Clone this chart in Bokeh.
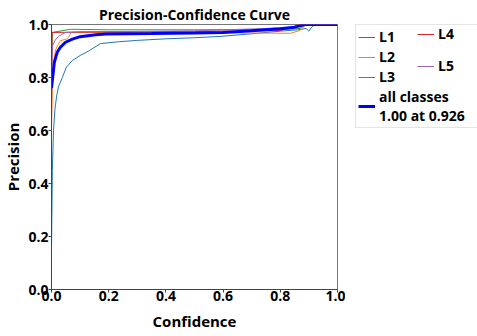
from bokeh.plotting import figure
from bokeh.layouts import row
from bokeh.models import Range1d, FixedTicker, Legend, LegendItem, CustomJSTickFormatter
from bokeh.embed import file_html
from bokeh.resources import INLINE

# ---- data ----
l1_conf = [0, 0.003, 0.007, 0.012, 0.018, 0.024, 0.038, 0.052, 0.073, 0.1, 0.13, 0.171, 0.235, 0.3,
           0.4, 0.5, 0.59, 0.7, 0.8, 0.86, 0.89, 0.9, 0.91, 0.92, 1.0]
l1_prec = [0.15, 0.45, 0.6, 0.68, 0.73, 0.764, 0.80, 0.839, 0.864, 0.883, 0.90, 0.928, 0.935, 0.94,
           0.946, 0.95, 0.955, 0.965, 0.975, 0.98, 0.985, 0.975, 0.99, 1.0, 1.0]

l2_conf = [0, 0.003, 0.007, 0.014, 0.021, 0.031, 0.052, 0.062, 0.068, 0.15, 0.3, 0.5, 0.7, 0.8,
           0.836, 0.87, 0.888, 1.0]
l2_prec = [0.62, 0.78, 0.854, 0.903, 0.92, 0.939, 0.945, 0.955, 0.97, 0.97, 0.97, 0.969, 0.968, 0.967,
           0.967, 0.978, 1.0, 1.0]

l3_conf = [0, 0.003, 0.066, 0.2, 0.5, 0.8, 0.87, 0.88, 1.0]
l3_prec = [0.8, 0.97, 0.982, 0.98, 0.98, 0.982, 0.985, 1.0, 1.0]

l4_conf = [0, 0.002, 0.2, 0.5, 0.8, 0.845, 0.86, 1.0]
l4_prec = [0.6, 0.97, 0.972, 0.974, 0.977, 0.99, 1.0, 1.0]

l5_conf = [0, 0.004, 0.013, 0.024, 0.049, 0.1, 0.3, 0.5, 0.75, 0.85, 0.88, 1.0]
l5_prec = [0.85, 0.92, 0.941, 0.955, 0.97, 0.973, 0.974, 0.976, 0.985, 0.99, 1.0, 1.0]

all_conf = [0, 0.004, 0.01, 0.02, 0.031, 0.049, 0.073, 0.1, 0.154, 0.19, 0.35, 0.5, 0.6, 0.7,
            0.8, 0.85, 0.888, 1.0]
all_prec = [0.76, 0.80, 0.858, 0.895, 0.914, 0.933, 0.945, 0.954, 0.961, 0.964, 0.966, 0.968, 0.97, 0.976,
            0.984, 0.99, 1.0, 1.0]

tick_values = [0.0, 0.2, 0.4, 0.6, 0.8, 1.0]
title_text = "Precision-Confidence Curve"
x_label = "Confidence"
y_label = "Precision"
labels = ["L1", "L2", "L3", "L4", "L5", "all classes\n1.00 at 0.926"]
colors = ["#1f77b4", "#ff7f0e", "#2ca02c", "#d62728", "#9467bd", "#0000ff"]
widths = [1, 1, 1, 1, 1, 3]

FONT = "Open Sans"

p = figure(width=345, height=336, output_backend="svg", toolbar_location=None,
           x_range=Range1d(0, 1), y_range=Range1d(0, 1),
           min_border_left=51, min_border_right=8, min_border_top=22, min_border_bottom=47)

p.title.text = title_text
p.title.text_font = FONT
p.title.text_font_size = "14px"
p.title.text_font_style = "bold"
p.title.text_color = "black"
p.title.align = "center"
p.title.offset = 0
p.title.standoff = 2

p.xgrid.visible = False
p.ygrid.visible = False
p.outline_line_color = "#777777"
p.background_fill_color = "white"
p.border_fill_color = "white"

for ax in (p.xaxis[0], p.yaxis[0]):
    ax.ticker = FixedTicker(ticks=tick_values)
    ax.formatter = CustomJSTickFormatter(code="return tick.toFixed(1)")
    ax.major_label_text_font = FONT
    ax.major_label_text_font_size = "14px"
    ax.major_label_text_font_style = "bold"
    ax.major_label_text_color = "black"
    ax.axis_label_text_font = FONT
    ax.axis_label_text_font_size = "15px"
    ax.axis_label_text_font_style = "bold"
    ax.axis_label_text_color = "black"
    ax.minor_tick_line_color = None
    ax.major_tick_in = 0
    ax.major_tick_out = 3
    ax.axis_line_color = "#444444"
    ax.major_tick_line_color = "#444444"

p.xaxis.major_label_standoff = -2
p.yaxis.major_label_standoff = 0
p.xaxis.axis_label = x_label
p.yaxis.axis_label = y_label
p.xaxis.axis_label_standoff = 7
p.yaxis.axis_label_standoff = 2

series = [(l1_conf, l1_prec), (l2_conf, l2_prec), (l3_conf, l3_prec),
          (l4_conf, l4_prec), (l5_conf, l5_prec), (all_conf, all_prec)]
for (cx, py), col, w in zip(series, colors, widths):
    p.line(cx, py, line_color=col, line_width=w)

# ---- legend panel (separate figure to the right of the plot) ----
# its ranges lie outside the data, so the copies of the lines used as legend swatches stay out of view
lf = figure(width=132, height=336, output_backend="svg", toolbar_location=None,
            x_range=Range1d(5, 6), y_range=Range1d(5, 6),
            x_axis_location=None, y_axis_location=None,
            min_border_left=10, min_border_right=0, min_border_top=24, min_border_bottom=0)
lf.xgrid.visible = False
lf.ygrid.visible = False
lf.outline_line_color = None
lf.background_fill_color = "white"
lf.border_fill_color = "white"

swatches = [lf.line(cx, py, line_color=col, line_width=w)
            for (cx, py), col, w in zip(series, colors, widths)]

def style(lg):
    lg.label_text_font = FONT
    lg.label_text_font_size = "14px"
    lg.label_text_font_style = "bold"
    lg.label_text_color = "black"
    lg.label_text_line_height = 0.9
    lg.glyph_width = 17
    lg.glyph_height = 16
    lg.label_height = 18
    lg.label_standoff = 4
    lg.padding = 2
    lg.margin = 0

legA = Legend(items=[LegendItem(label=labels[i], renderers=[swatches[i]]) for i in (0, 1, 2, 5)],
              location="top_left")
style(legA)
legA.spacing = 1
legA.label_width = 99
legA.border_line_color = "#cccccc"
legA.border_line_width = 1
legA.background_fill_color = "white"

legB = Legend(items=[LegendItem(label=labels[i], renderers=[swatches[i]]) for i in (3, 4)],
              location=(62, 214))
style(legB)
legB.spacing = 13
legB.border_line_color = None
legB.background_fill_alpha = 0

lf.add_layout(legA, "center")
lf.add_layout(legB, "center")

layout = row(p, lf)
open("out.html", "w").write(file_html(layout, INLINE))
